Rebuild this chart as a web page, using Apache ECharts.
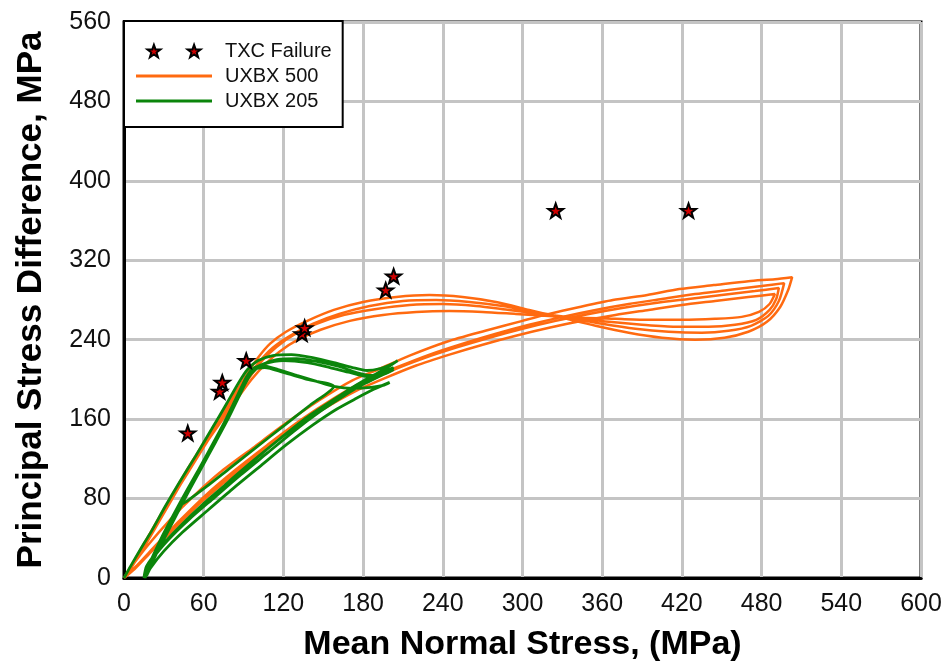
<!DOCTYPE html>
<html>
<head>
<meta charset="utf-8">
<script src="https://cdn.jsdelivr.net/npm/echarts@6/dist/echarts.min.js"></script>
<style>
html,body{margin:0;padding:0;background:#fff;}
#chart{width:947px;height:667px;}
</style>
</head>
<body>
<div id="chart"></div>
<script>
// ---- tick labels / axis ranges ----
const xTicks = [0, 60, 120, 180, 240, 300, 360, 420, 480, 540, 600];
const yTicks = [0, 80, 160, 240, 320, 400, 480, 560];

// ---- TXC failure points [mean stress, stress difference] ----
const txcFailure = [
  [48, 146], [72, 188], [74, 197], [92, 219], [134, 246], [136, 252],
  [197, 290], [203, 304], [325, 370], [425, 370]
];

// ---- UXBX 500 (orange) load / unload cycles ----
const uxbx500Load1 = [[0,0],[8,18],[20,46],[33,76],[47,108],[60,136],[72,162],[83,185],[92,204],[101,222],[110,236],[122,248],[138,259],[158,270],[180,278],[205,283],[230,285],[255,283],[280,278],[305,270],[330,262],[355,254],[380,247],[405,242],[430,240],[452,242],[470,248],[484,258],[494,273],[500,290],[503,303]];
const uxbx500Unload1 = [[503,303],[490,301],[470,299],[444,295],[418,291],[394,285],[368,280],[343,273],[320,266],[300,259],[272,249],[243,238],[215,224],[193,211],[172,199],[147,179],[122,156],[97,131],[72,106],[52,82],[35,59],[18,33],[6,12],[0,0]];
const uxbx500Load2 = [[0,0],[9,19],[21,47],[34,77],[48,108],[61,136],[73,161],[84,183],[93,201],[102,218],[112,232],[125,244],[142,256],[162,266],[185,274],[210,279],[235,280],[260,278],[285,274],[310,268],[335,262],[360,256],[385,251],[410,248],[435,247],[455,249],[472,254],[485,264],[493,279],[497,297]];
const uxbx500Unload2 = [[497,297],[480,294],[455,290],[430,286],[405,281],[380,276],[355,270],[330,263],[305,255],[280,246],[255,236],[230,225],[205,212],[182,199],[158,181],[133,159],[108,134],[84,109],[62,84],[42,58],[24,33],[10,13],[2,3]];
const uxbx500Load3 = [[2,3],[11,22],[23,49],[36,79],[49,109],[62,137],[74,162],[85,184],[95,203],[104,219],[115,233],[128,245],[145,256],[166,265],[190,271],[215,275],[240,276],[265,274],[290,270],[315,266],[340,262],[365,258],[390,255],[415,253],[440,253],[460,255],[476,260],[486,270],[491,281],[493,292]];
const uxbx500Unload3 = [[493,292],[475,289],[450,285],[425,281],[400,277],[375,272],[350,266],[325,259],[300,251],[275,242],[250,232],[225,221],[200,208],[178,194],[155,177],[130,155],[106,131],[82,105],[60,80],[40,54],[23,31],[9,11],[1,1]];
const uxbx500Load4 = [[1,1],[10,21],[22,48],[35,78],[49,108],[62,136],[75,161],[86,182],[96,200],[106,215],[117,228],[131,240],[148,250],[170,259],[195,265],[220,268],[245,269],[270,268],[295,266],[320,264],[345,262],[370,261],[395,260],[420,260],[445,261],[465,263],[478,268],[486,276],[490,286]];
const uxbx500Unload4 = [[490,286],[470,283],[445,279],[420,275],[395,270],[370,265],[345,259],[320,252],[295,244],[270,235],[245,225],[220,214],[196,201],[174,188],[150,170],[126,149],[102,125],[79,100],[57,75],[38,50],[21,27],[8,9],[0,0]];

// ---- UXBX 205 (green) load / unload cycles ----
const uxbx205Load1 = [[0,0],[5,12],[12,28],[21,48],[31,72],[42,97],[54,123],[66,150],[77,175],[86,196],[93,210],[101,219],[112,224],[126,225],[142,222],[158,217],[172,212],[183,209],[193,211],[201,215],[206,219]];
const uxbx205Unload1 = [[206,219],[197,211],[186,203],[172,192],[156,178],[138,162],[118,141],[98,119],[78,96],[58,71],[40,48],[26,28],[17,12],[15,0]];
const uxbx205Load2 = [[15,0],[17,8],[21,20],[28,40],[37,63],[48,90],[60,118],[71,145],[81,170],[89,191],[96,206],[104,215],[115,220],[130,221],[146,218],[162,213],[175,207],[186,204],[195,205],[203,210]];
const uxbx205Unload2 = [[203,210],[192,203],[180,195],[165,183],[148,168],[128,148],[108,126],[88,104],[68,81],[49,59],[33,38],[22,20],[16,4]];
const uxbx205Load3 = [[16,4],[20,16],[27,35],[36,58],[46,84],[57,111],[68,138],[78,163],[86,185],[92,202],[97,211],[104,214],[116,210],[130,204],[145,198],[158,193],[172,191],[186,192],[195,194],[200,197]];
const uxbx205Unload3 = [[200,197],[188,190],[175,181],[160,170],[142,154],[122,134],[102,112],[82,90],[62,67],[44,46],[30,27],[20,10],[17,2]];
const uxbx205Load4 = [[17,2],[21,15],[28,34],[37,57],[47,83],[58,110],[69,137],[79,162],[87,184],[93,200],[98,210],[106,212],[120,207],[138,200],[158,193]];
const uxbx205Unload4 = [[158,193],[140,174],[120,153],[100,132],[80,111],[62,92],[48,78],[43,74]];
const uxbx205Load5 = [[43,74],[50,92],[58,112],[67,135],[76,158],[84,180],[91,199],[97,210],[106,216],[120,219],[138,217],[155,212],[170,207],[183,203],[194,206],[203,212]];
const uxbx205Unload5 = [[203,212],[190,204],[176,194],[160,181],[140,163],[120,143],[100,121],[80,98],[60,75],[42,52],[28,32],[19,14],[16,0]];

const uxbx500 = [].concat(uxbx500Load1, uxbx500Unload1, uxbx500Load2, uxbx500Unload2,
  uxbx500Load3, uxbx500Unload3, uxbx500Load4, uxbx500Unload4);
const uxbx205 = [].concat(uxbx205Load1, uxbx205Unload1, uxbx205Load2, uxbx205Unload2,
  uxbx205Load3, uxbx205Unload3, uxbx205Load4, uxbx205Unload4, uxbx205Load5, uxbx205Unload5);

const STAR = 'path://M50 0 L61.76 33.82 L97.55 34.55 L69.02 56.18 L79.39 90.45 L50 70 L20.61 90.45 L30.98 56.18 L2.45 34.55 L38.24 33.82 Z';
const STAR2 = 'path://M50 0 L61.76 33.82 L97.55 34.55 L69.02 56.18 L79.39 90.45 L50 70 L20.61 90.45 L30.98 56.18 L2.45 34.55 L38.24 33.82 Z M343 0 L354.76 33.82 L390.55 34.55 L362.02 56.18 L372.39 90.45 L343 70 L313.61 90.45 L323.98 56.18 L295.45 34.55 L331.24 33.82 Z';
const LINE_ICON = 'path://M0 0 H76 V3 H0 Z';

const ORANGE = '#ff6a10';
const GREEN = '#0b850b';
const FONT = '"Liberation Sans", Arial, sans-serif';
const chart = echarts.init(document.getElementById('chart'), null, {renderer: 'canvas'});
chart.setOption({
  animation: false,
  backgroundColor: '#fff',
  grid: {left: 124, right: 26, top: 22, bottom: 86, show: true, borderColor: '#000', borderWidth: 3, backgroundColor: 'transparent'},
  legend: {
    orient: 'vertical', left: 124, top: 21,
    backgroundColor: '#fff', borderColor: '#000', borderWidth: 2,
    padding: [20, 11, 16, 12],
    itemWidth: 76, itemHeight: 12.4, itemGap: 5,
    textStyle: {fontFamily: FONT, fontSize: 20, lineHeight: 20, color: '#111', padding: [0, 0, 0, 8]},
    data: [
      {name: 'TXC Failure', icon: STAR2, itemStyle: {color: '#d00000', borderColor: '#000', borderWidth: 2}},
      {name: 'UXBX 500', icon: LINE_ICON, itemStyle: {color: ORANGE, borderWidth: 0}},
      {name: 'UXBX 205', icon: LINE_ICON, itemStyle: {color: GREEN, borderWidth: 0}}
    ]
  },
  xAxis: {
    type: 'value', min: xTicks[0], max: xTicks[xTicks.length - 1], interval: 60,
    name: 'Mean Normal Stress, (MPa)', nameLocation: 'middle', nameGap: 50,
    nameTextStyle: {fontFamily: FONT, fontSize: 34, fontWeight: 'bold', color: '#000'},
    axisLine: {show: true, lineStyle: {color: '#000', width: 3}},
    axisTick: {show: false},
    axisLabel: {fontFamily: FONT, fontSize: 25, color: '#111', margin: 14},
    splitLine: {show: true, lineStyle: {color: '#c4c4c4', width: 3}}
  },
  yAxis: {
    type: 'value', min: yTicks[0], max: yTicks[yTicks.length - 1], interval: 80,
    name: 'Principal Stress Difference, MPa', nameLocation: 'middle', nameGap: 75, nameRotate: 90,
    nameTextStyle: {fontFamily: FONT, fontSize: 35, fontWeight: 'bold', color: '#000'},
    axisLine: {show: true, lineStyle: {color: '#000', width: 3}},
    axisTick: {show: false},
    axisLabel: {fontFamily: FONT, fontSize: 25, color: '#111', margin: 13},
    splitLine: {show: true, lineStyle: {color: '#c4c4c4', width: 3}}
  },
  series: [
    {
      name: 'UXBX 500', type: 'line', data: uxbx500, showSymbol: false, symbol: 'none',
      smooth: 0.25, lineStyle: {color: ORANGE, width: 2.5}, itemStyle: {color: ORANGE}, z: 2
    },
    {
      name: 'UXBX 205', type: 'line', data: uxbx205, showSymbol: false, symbol: 'none',
      smooth: 0.25, lineStyle: {color: GREEN, width: 2.8}, itemStyle: {color: GREEN}, z: 3
    },
    {
      name: 'TXC Failure', type: 'scatter', data: txcFailure, symbol: STAR, symbolSize: 15, symbolKeepAspect: true,
      itemStyle: {color: '#d00000', borderColor: '#000', borderWidth: 2, opacity: 1}, z: 5
    }
  ]
});
</script>
</body>
</html>
